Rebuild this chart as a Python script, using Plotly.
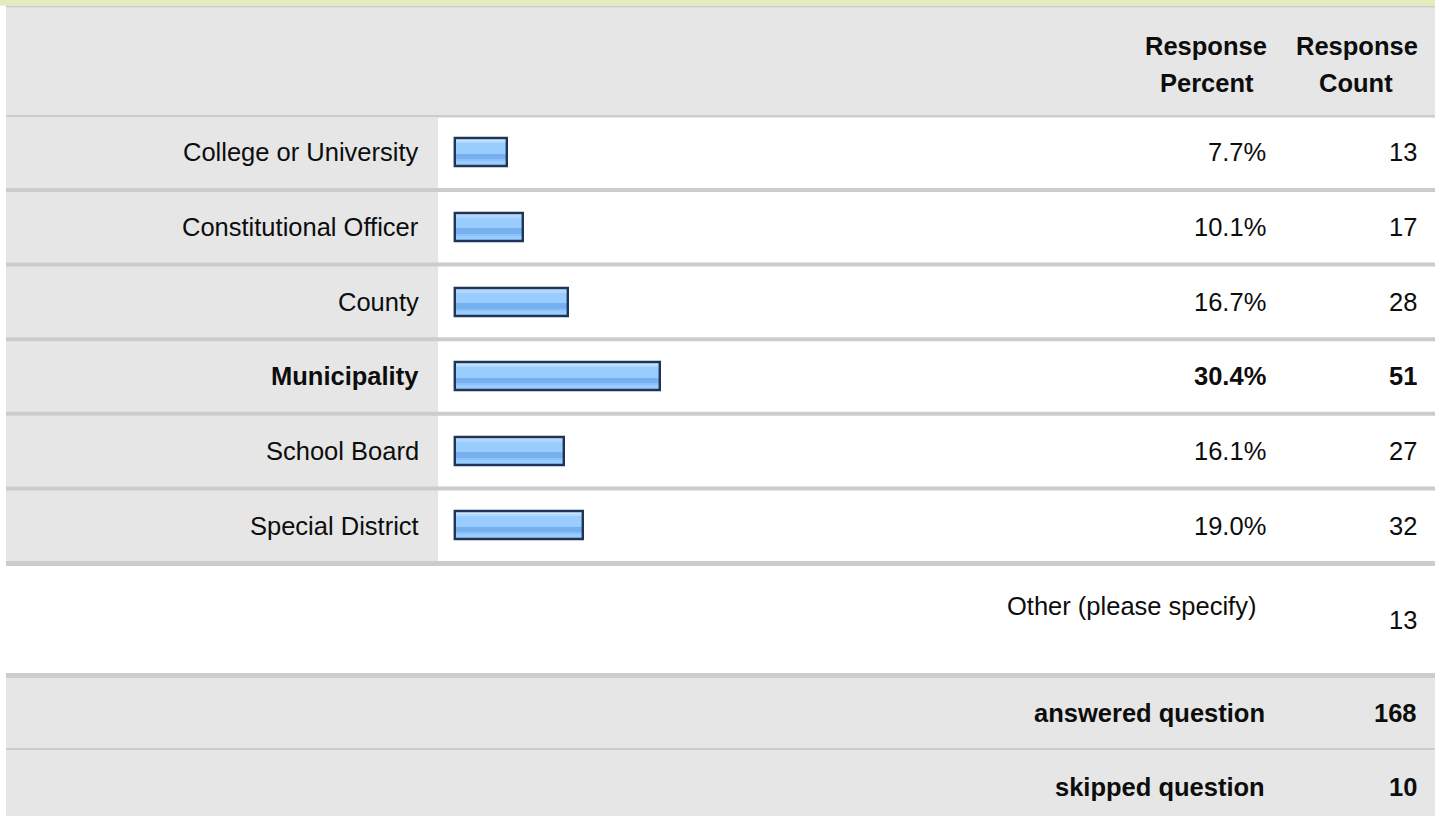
import plotly.graph_objects as go

# ---- data ----
categories = ["College or University", "Constitutional Officer", "County",
              "Municipality", "School Board", "Special District"]
percents = [7.7, 10.1, 16.7, 30.4, 16.1, 19.0]
counts = [13, 17, 28, 51, 27, 32]
highlight = "Municipality"
header_percent = ["Response", "Percent"]
header_count = ["Response", "Count"]
other_label = "Other (please specify)"
other_count = 13
summary_labels = ["answered question", "skipped question"]
summary_values = [168, 10]

# ---- layout constants (pixels) ----
W, H = 1439, 816
FONT = "Arial, Liberation Sans, sans-serif"
FS = 25.5
TXT = "#0d0d0d"
GRAY = "#E6E6E6"
SEP = "#CCCCCC"
PX_PER_UNIT = 6.75
ZERO_PX = 455
ROW_TOP, ROW_PITCH = 115.2, 74.6
ROW_BOTTOM = ROW_TOP + ROW_PITCH * len(categories)


def px(x):
    return x / W


def py(y):
    return 1 - y / H


def rect(x0, y0, x1, y1, color):
    return dict(type="rect", xref="paper", yref="paper", layer="below",
                x0=px(x0), x1=px(x1), y0=py(y1), y1=py(y0),
                fillcolor=color, line=dict(width=0))


shapes = [
    rect(0, 0, 1435, 5.7, "#E4ECBD"),
    rect(6, 5.7, 1435, 7.7, SEP),
    rect(6, 7.7, 1435, 115, GRAY),
    rect(6, 115, 1435, 117.5, SEP),
    rect(6, 117.5, 438, 561, GRAY),
]
for k in range(len(categories) - 1):
    y0 = 188 + ROW_PITCH * k
    shapes.append(rect(6, y0, 1435, y0 + 4, SEP))
shapes += [
    rect(6, 561, 1435, 566, SEP),
    rect(6, 673, 1435, 678, SEP),
    rect(6, 678, 1435, 748, GRAY),
    rect(6, 748, 1435, 750, SEP),
    rect(6, 750, 1435, 816, GRAY),
]

fig = go.Figure()

unit = 1 / ROW_PITCH  # category units per pixel
bar_w = 28 * unit

# main fill
fig.add_trace(go.Bar(y=categories, x=percents, orientation="h",
                     width=bar_w, marker=dict(color="#99CCFF", line=dict(width=0)),
                     hoverinfo="skip", showlegend=False))
# gradient stripes (top light, darker lower band)
stripes = [(-14, 2.5, "#CDE6FF"), (-11.5, 2.5, "#B0D8FF"), (1.5, 5.5, "#77B0EE"),
           (7, 2, "#8CC0F6")]
for off, h, col in stripes:
    fig.add_trace(go.Bar(y=categories, x=percents, orientation="h",
                         width=h * unit, offset=off * unit,
                         marker=dict(color=col, line=dict(width=0)),
                         hoverinfo="skip", showlegend=False))
# border
fig.add_trace(go.Bar(y=categories, x=percents, orientation="h",
                     width=bar_w, marker=dict(color="rgba(0,0,0,0)",
                                              line=dict(width=2.4, color="#1E3558")),
                     hoverinfo="skip", showlegend=False))

annotations = []


def ann(text, x, y, xanchor="right", bold=False, yref="paper"):
    t = f"<b>{text}</b>" if bold else text
    annotations.append(dict(text=t, x=px(x), xref="paper", y=y, yref=yref,
                            xanchor=xanchor, yanchor="middle", showarrow=False,
                            font=dict(family=FONT, size=FS, color=TXT)))


# header
ann(header_percent[0], 1206, py(46), "center", True)
ann(header_percent[1], 1207, py(83), "center", True)
ann(header_count[0], 1357, py(46), "center", True)
ann(header_count[1], 1356, py(83), "center", True)

for c, p, n in zip(categories, percents, counts):
    b = c == highlight
    ann(c, 421, c, "right", b, "y")
    ann(f"{p:.1f}%", 1268, c, "right", b, "y")
    ann(str(n), 1419, c, "right", b, "y")

ann(other_label, 1258, py(606))
ann(str(other_count), 1419, py(620))
ann(summary_labels[0], 1267, py(713), "right", True)
ann(str(summary_values[0]), 1419, py(713), "right", True)
ann(summary_labels[1], 1267, py(787), "right", True)
ann(str(summary_values[1]), 1419, py(787), "right", True)

fig.update_layout(
    width=W, height=H, margin=dict(l=0, r=0, t=0, b=0),
    paper_bgcolor="white", plot_bgcolor="rgba(0,0,0,0)",
    barmode="overlay", bargap=0,
    shapes=shapes, annotations=annotations,
    xaxis=dict(domain=[px(438), px(1100)],
               range=[(438 - ZERO_PX) / PX_PER_UNIT, (1100 - ZERO_PX) / PX_PER_UNIT],
               visible=False, fixedrange=True),
    yaxis=dict(domain=[py(ROW_BOTTOM), py(ROW_TOP)], type="category",
               categoryorder="array", categoryarray=categories,
               range=[len(categories) - 0.5, -0.5],
               visible=False, fixedrange=True),
    showlegend=False,
)

fig.write_html("out.html", config={"displayModeBar": False})
